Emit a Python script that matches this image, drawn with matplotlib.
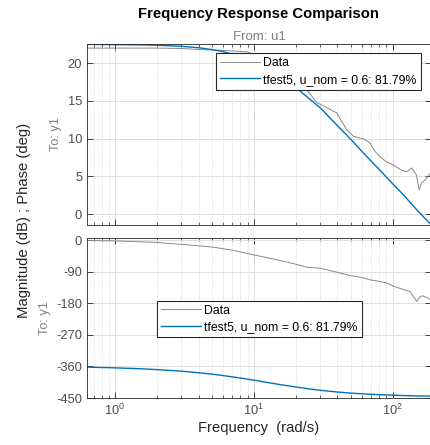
import matplotlib
matplotlib.use("Agg")
import matplotlib.pyplot as plt
from matplotlib.ticker import LogLocator, NullFormatter

plt.rcParams['font.family'] = ['Liberation Sans', 'DejaVu Sans']
plt.rcParams['axes.unicode_minus'] = False

# model (tfest5) response
model_freq = [0.628, 1, 1.5, 2, 3, 4, 5, 6, 8, 10, 12, 15, 20, 25, 30, 40, 50,
              60, 80, 100, 120, 150, 188.7]
model_mag = [22.49, 22.46, 22.43, 22.38, 22.24, 22.05, 21.8, 21.53, 20.91, 20.2,
             19.5, 18.4, 16.8, 15.3, 14.1, 11.7, 9.9, 8.3, 5.9, 4.0, 2.5, 0.5, -1.4]
model_ph = [-362.0, -364.0, -366.5, -369.0, -373.5, -378.0, -382.0, -386.0,
            -393.0, -399.0, -404.5, -411.0, -418.5, -424.0, -428.0, -433.0,
            -436.0, -438.0, -440.5, -442.0, -443.0, -444.0, -444.5]

# measured data
data_freq_mag = [0.628, 1, 2, 3, 4.1, 6, 8.9, 12, 15, 18, 21.5, 24, 28.3, 34.4,
                 39.5, 46.5, 52.2, 63, 68.5, 74.6, 81, 90.2, 101, 116, 126, 137,
                 141, 148, 155, 161, 171, 188.7]
data_mag = [22.0, 22.0, 22.0, 21.95, 21.8, 21.7, 21.5, 20.6, 19.5, 18.3, 17.2,
            16.5, 14.8, 14.0, 13.4, 11.2, 10.3, 9.9, 9.4, 8.3, 7.6, 6.9, 6.5,
            5.8, 5.6, 6.1, 5.8, 5.2, 3.2, 4.1, 4.5, 5.5]
data_freq_ph = [0.628, 1, 1.9, 3.3, 5.1, 7.1, 10, 13.9, 19.4, 24, 30, 37.6,
                49.3, 58, 68.8, 81, 90.6, 101, 120, 133, 149, 158, 167, 188.7]
data_ph = [-1, -2, -6, -13, -20, -29, -42, -54, -67, -77, -80, -89, -101, -105,
           -113, -118, -122, -131, -141, -146, -175, -160, -159, -170]

labels = ['Data', 'tfest5, u_nom = 0.6: 81.79%']
xlim = (0.628, 188.7)
mag_ticks = [0, 5, 10, 15, 20]
ph_ticks = [0, -90, -180, -270, -360, -450]

blue = '#0072BD'
gray = '#888888'
tick_col = '#4d4d4d'

fig = plt.figure(figsize=(4.31, 4.45), dpi=100)
ax1 = fig.add_axes([0.2019, 0.495, 0.7981, 0.4054])
ax2 = fig.add_axes([0.2019, 0.1056, 0.7981, 0.3602])

for ax in (ax1, ax2):
    ax.set_xscale('log')
    ax.set_xlim(*xlim)
    ax.xaxis.set_major_locator(LogLocator(base=10))
    ax.xaxis.set_minor_locator(LogLocator(base=10, subs=range(2, 10)))
    ax.xaxis.set_minor_formatter(NullFormatter())
    ax.tick_params(which='both', direction='in', top=True, right=True,
                   colors='#262626', labelcolor=tick_col, labelsize=9.3)
    ax.tick_params(which='major', length=4, width=0.6)
    ax.tick_params(which='minor', length=2, width=0.5)
    ax.grid(True, which='major', color='#dedede', linewidth=0.7)
    ax.grid(True, which='minor', axis='x', color='#d0d0d0', linestyle=':',
            linewidth=0.6)
    ax.set_axisbelow(True)
    for s in ax.spines.values():
        s.set_color('#262626')
        s.set_linewidth(0.6)
    ax.set_ylabel('To: y1', color='#808080', fontsize=9.2, labelpad=4)

legend_kw = dict(fontsize=8.8, fancybox=False, framealpha=1,
                 edgecolor='#262626', borderpad=0.33, handlelength=3.3,
                 labelspacing=0.35, handletextpad=0.25, borderaxespad=0)

ax1.plot(data_freq_mag, data_mag, color=gray, lw=0.7, label=labels[0])
ax1.plot(model_freq, model_mag, color=blue, lw=1.0, label=labels[1])
ax1.set_ylim(-1.42, 22.5)
ax1.set_yticks(mag_ticks)
ax1.tick_params(axis='x', labelbottom=False)
ax1.set_title('From: u1', color='#808080', fontsize=9.5, pad=3)
leg1 = ax1.legend(loc='upper right', bbox_to_anchor=(0.970, 0.950), **legend_kw)
leg1.get_frame().set_linewidth(0.8)

ax2.plot(data_freq_ph, data_ph, color=gray, lw=0.7, label=labels[0])
ax2.plot(model_freq, model_ph, color=blue, lw=1.0, label=labels[1])
ax2.set_ylim(-450, 7)
ax2.set_yticks(ph_ticks)
leg2 = ax2.legend(loc='upper left', bbox_to_anchor=(0.2026, 0.607), **legend_kw)
leg2.get_frame().set_linewidth(0.8)
ax2.set_xlabel('Frequency  (rad/s)', fontsize=10.6, color='#262626', labelpad=2)

fig.text(0.5986, 0.968, 'Frequency Response Comparison', ha='center',
         va='center', fontsize=10.7, fontweight='bold')
fig.text(0.056, 0.5056, 'Magnitude (dB) ; Phase (deg)', rotation=90,
         ha='center', va='center', fontsize=10.7, color='#262626')

fig.savefig('out.png', dpi=100)
